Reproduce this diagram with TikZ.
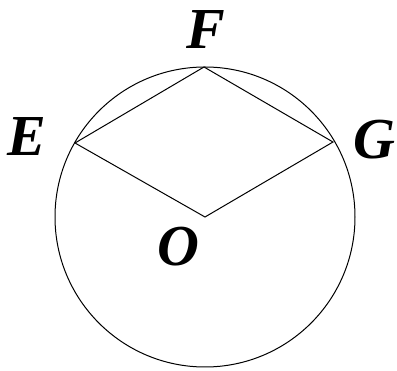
\documentclass[tikz,border=0pt]{standalone}
\usepackage{fontspec}
\setmainfont{Liberation Serif}
\begin{document}
\begin{tikzpicture}[x=1pt,y=-1pt,
  lbl/.style={font=\fontsize{58}{58}\selectfont\bfseries\itshape, inner sep=0pt},
  edge/.style={line width=1pt}]
\useasboundingbox (0,0) rectangle (397,371);
\coordinate (O) at (205,217);
\coordinate (E) at (75,143);
\coordinate (F) at (204,67);
\coordinate (G) at (333,142);
\draw[edge] (O) circle (150);
\draw[edge] (E) -- (F) -- (G) -- (O) -- cycle;
\node[lbl] (lF) at (206,30) {F};
\node[lbl] (lE) at (27,137) {E};
\node[lbl] (lG) at (374,140) {G};
\node[lbl] (lO) at (178,247) {O};
\end{tikzpicture}
\end{document}
